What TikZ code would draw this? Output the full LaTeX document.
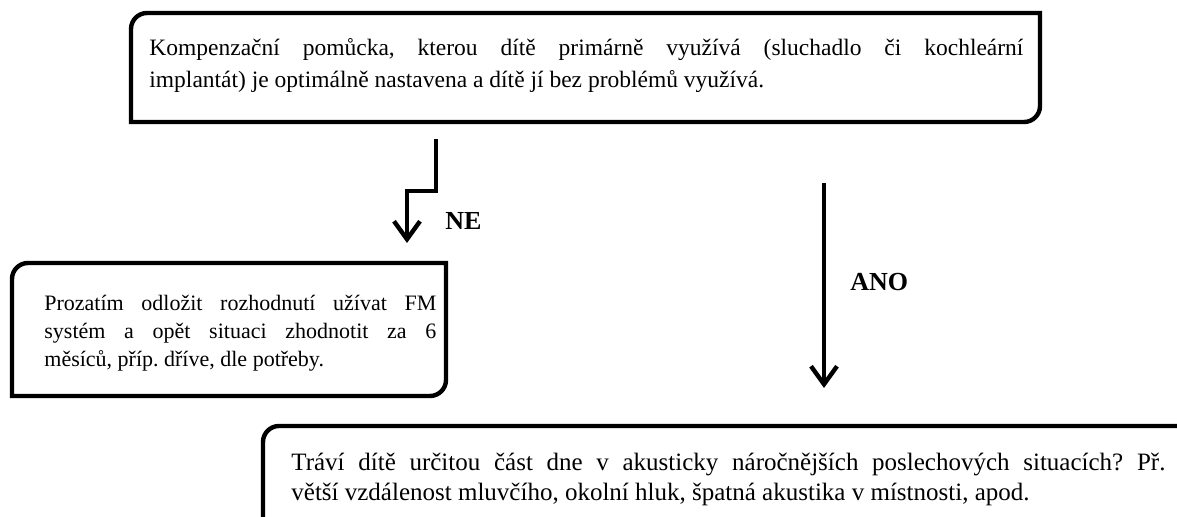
\documentclass[tikz,border=0pt]{standalone}
\usepackage{fontspec}
\setmainfont{Liberation Serif}
\usetikzlibrary{arrows.meta}
\tolerance=10000
\hbadness=10000
\frenchspacing
\tikzset{
  boxline/.style={line width=2.2pt, line join=miter},
  arrowline/.style={line width=2.2pt, -{Straight Barb[length=9pt,width=13pt]}},
  boxtext/.style={anchor=north west, inner sep=0pt, align=justify},
  lbl/.style={anchor=west, inner sep=0pt, font=\fontsize{13pt}{15pt}\selectfont\bfseries},
}
\begin{document}
\begin{tikzpicture}[x=0.5pt, y=-0.5pt]
\useasboundingbox (0,0) rectangle (1177,517);
\clip (0,0) rectangle (1177,517);

% box corners
\coordinate (tbnw) at (131,13);
\coordinate (tbse) at (1040,122);
\coordinate (lbnw) at (12,263);
\coordinate (lbse) at (446,396);
\coordinate (bbnw) at (263,426);
\coordinate (bbse) at (1240,570);

% boxes
\draw[boxline] (tbnw |- tbse) -- ([yshift=-8pt]tbnw) arc[start angle=180,end angle=90,radius=8pt]
  -- (tbse |- tbnw) -- ([yshift=8pt]tbse) arc[start angle=0,end angle=-90,radius=8pt] -- cycle;
\draw[boxline] (lbnw |- lbse) -- ([yshift=-8pt]lbnw) arc[start angle=180,end angle=90,radius=8pt]
  -- (lbse |- lbnw) -- ([yshift=8pt]lbse) arc[start angle=0,end angle=-90,radius=8pt] -- cycle;
\draw[boxline] (bbnw |- bbse) -- ([yshift=-8pt]bbnw) arc[start angle=180,end angle=90,radius=8pt]
  -- (bbse |- bbnw) -- (bbse) -- cycle;

% texts
\node[boxtext, text width=437pt, font=\fontsize{11.75pt}{16pt}\selectfont] (toptext) at (149,32.6)
  {\strut Kompenzační pomůcka, kterou dítě primárně využívá (sluchadlo či kochleární\linebreak implantát) je optimálně nastavena a dítě jí bez problémů využívá.};
\node[boxtext, text width=196pt, font=\fontsize{11pt}{14pt}\selectfont] (lefttext) at (44,290.4)
  {\strut Prozatím odložit rozhodnutí užívat FM\linebreak systém a opět situaci zhodnotit za 6\linebreak měsíců, příp. dříve, dle potřeby.};
\node[boxtext, text width=437pt, font=\fontsize{12.5pt}{15pt}\selectfont] (bottomtext) at (291,449)
  {\strut Tráví dítě určitou část dne v akusticky náročnějších poslechových situacích? Př.\linebreak větší vzdálenost mluvčího, okolní hluk, špatná akustika v místnosti, apod.};

% connectors
\coordinate (nestart) at (436,139);
\coordinate (neturna) at (436,191);
\coordinate (neturnb) at (407,191);
\coordinate (neend) at (407,243);
\draw[arrowline] (nestart) -- (neturna) -- (neturnb) -- (neend);
\node[lbl] (nelabel) at (445,221) {NE};

\coordinate (anostart) at (824,183);
\coordinate (anoend) at (824,388);
\draw[arrowline] (anostart) -- (anoend);
\node[lbl] (anolabel) at (850,282) {ANO};
\end{tikzpicture}
\end{document}
